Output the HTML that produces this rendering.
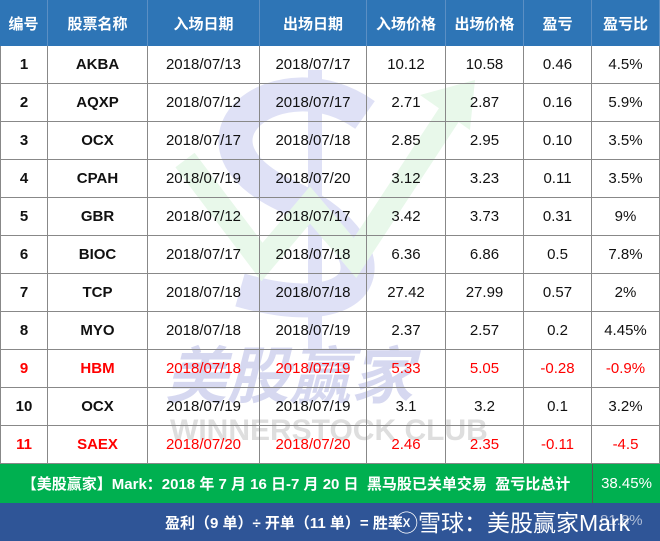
<!DOCTYPE html>
<html><head><meta charset="utf-8"><style>
body{margin:0;width:660px;height:541px;overflow:hidden;background:#fff;font-family:"Liberation Sans","Noto Sans CJK SC",sans-serif;position:relative}
.c{position:absolute;display:flex;align-items:center;justify-content:center;font-size:15px;color:#111;box-sizing:border-box}
.h{background:#2e75b6;color:#fff;font-weight:bold;font-size:15px;height:46px;top:0;border-right:1px solid #5b8fc4}
.r{border-right:1px solid #888;border-bottom:1px solid #888;height:38px}
.b{font-weight:bold}
.red{color:#f00}
svg{position:absolute;left:0;top:0}
.a{position:absolute;white-space:nowrap;color:#fff}
</style></head><body>
<svg width="660" height="541">
<path d="M365 115 C280 55,170 140,285 195 C395 245,380 330,240 290" fill="none" stroke="#dfe1f6" stroke-width="34"/>
<rect x="308" y="70" width="14" height="280" fill="#dfe1f6"/>
<polyline points="185,160 262,262 310,205 355,258 462,95" fill="none" stroke="#e8f8ea" stroke-width="24"/>
<polygon points="475,80 420,95 470,130" fill="#e8f8ea"/>
<text x="165" y="398" font-size="62" font-weight="bold" font-style="italic" fill="#d6d8f0" font-family="Noto Sans CJK SC,sans-serif">美股赢家</text>
<text x="170" y="440" font-size="30" font-weight="bold" fill="#dedede" font-family="Liberation Sans,sans-serif">WINNERSTOCK CLUB</text>
</svg>
<div id="t"></div>
<div class="c b" style="left:0;top:464px;width:592px;height:39px;background:#00b050;color:#fff;font-size:15px">【美股赢家】Mark：2018 年 7 月 16 日-7 月 20 日&nbsp; 黑马股已关单交易&nbsp; 盈亏比总计</div>
<div class="c" style="left:592px;top:464px;width:68px;height:39px;background:#00b050;color:#fff;border-left:1px solid #555">38.45%</div>
<div style="position:absolute;left:0;top:503px;width:660px;height:38px;background:#2f5597"></div>
<div class="a b" style="left:165px;top:512px;font-size:15px">盈利（9 单）÷ 开单（11 单）= 胜率</div>
<div class="a" style="left:600px;top:512px;font-size:15px;opacity:.6">81.8%</div>
<div class="a" style="left:395px;top:504px;font-size:23px">ⓧ雪球：美股赢家Mark</div>
<script>
var X=[0,48,148,260,367,446,524,592,660];
var H=["编号","股票名称","入场日期","出场日期","入场价格","出场价格","盈亏","盈亏比"];
var D=[["1","AKBA","2018/07/13","2018/07/17","10.12","10.58","0.46","4.5%"],
["2","AQXP","2018/07/12","2018/07/17","2.71","2.87","0.16","5.9%"],
["3","OCX","2018/07/17","2018/07/18","2.85","2.95","0.10","3.5%"],
["4","CPAH","2018/07/19","2018/07/20","3.12","3.23","0.11","3.5%"],
["5","GBR","2018/07/12","2018/07/17","3.42","3.73","0.31","9%"],
["6","BIOC","2018/07/17","2018/07/18","6.36","6.86","0.5","7.8%"],
["7","TCP","2018/07/18","2018/07/18","27.42","27.99","0.57","2%"],
["8","MYO","2018/07/18","2018/07/19","2.37","2.57","0.2","4.45%"],
["9","HBM","2018/07/18","2018/07/19","5.33","5.05","-0.28","-0.9%"],
["10","OCX","2018/07/19","2018/07/19","3.1","3.2","0.1","3.2%"],
["11","SAEX","2018/07/20","2018/07/20","2.46","2.35","-0.11","-4.5"]];
var s="";
for(var j=0;j<8;j++)s+='<div class="c h" style="left:'+X[j]+'px;width:'+(X[j+1]-X[j])+'px">'+H[j]+'</div>';
for(var i=0;i<11;i++){var red=(i==8||i==10)?" red":"";
for(var j=0;j<8;j++)s+='<div class="c r'+(j<2?" b":"")+red+'" style="left:'+X[j]+'px;width:'+(X[j+1]-X[j])+'px;top:'+(46+i*38)+'px;'+(j==0?'border-left:1px solid #888;':'')+'">'+D[i][j]+'</div>';}
document.getElementById("t").innerHTML=s;
</script>
</body></html>
